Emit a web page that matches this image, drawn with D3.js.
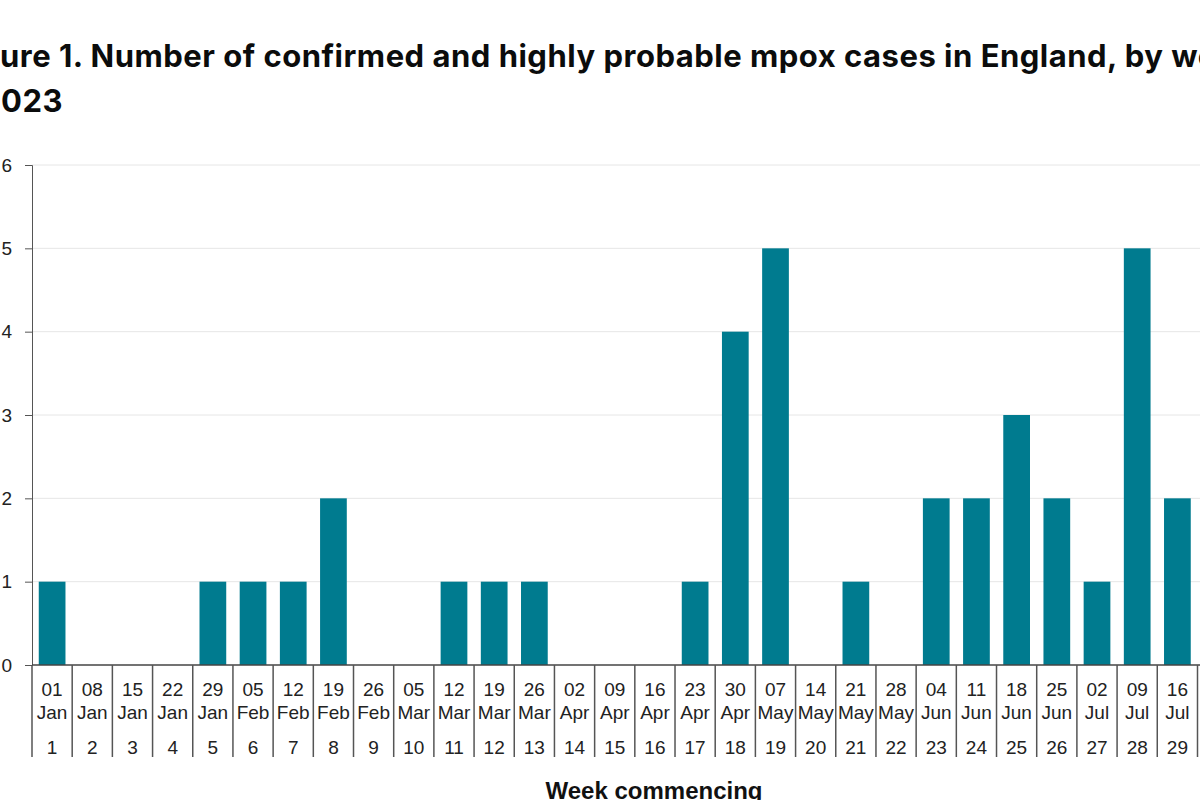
<!DOCTYPE html>
<html>
<head>
<meta charset="utf-8">
<script src="https://cdn.jsdelivr.net/npm/d3@7"></script>
<style>
body{margin:0;background:#fff;overflow:hidden;}
svg{display:block;}
</style>
</head>
<body>
<script>
// week commencing labels and case counts
var days = ["01","08","15","22","29","05","12","19","26","05","12","19","26","02","09","16","23","30","07","14","21","28","04","11","18","25","02","09","16"];
var months = ["Jan","Jan","Jan","Jan","Jan","Feb","Feb","Feb","Feb","Mar","Mar","Mar","Mar","Apr","Apr","Apr","Apr","Apr","May","May","May","May","Jun","Jun","Jun","Jun","Jul","Jul","Jul"];
var weeks = [1,2,3,4,5,6,7,8,9,10,11,12,13,14,15,16,17,18,19,20,21,22,23,24,25,26,27,28,29];
var cases = [1,0,0,0,1,1,1,2,0,0,1,1,1,0,0,0,1,4,5,0,1,0,2,2,3,2,1,5,2];
var yTicks = [0,1,2,3,4,5,6];

var W = 1200, H = 800;
var plotL = 32, plotR = 1197.5, plotT = 165, plotB = 665;

var svg = d3.select("body").append("svg").attr("width", W).attr("height", H);

var x = d3.scaleBand().domain(weeks).range([plotL, plotR]).paddingInner(0.335).paddingOuter(0.168);
var y = d3.scaleLinear().domain([0, 6]).range([plotB, plotT]);

// title, cropped on both sides like the source
var t1 = "Figure 1. Number of confirmed and highly probable mpox cases in England, by week,";
var t2 = "2023";
var title = svg.append("g").style("font-family", "Inter, 'Liberation Sans', sans-serif")
  .style("font-weight", "700").style("font-size", "31px").style("letter-spacing", "0.5px")
  .attr("fill", "#0b0c0c");
var probe = title.append("text").text("Fig");
var w1 = probe.node().getComputedTextLength();
probe.text("2");
var w2 = probe.node().getComputedTextLength();
probe.remove();
title.append("text").attr("x", -w1).attr("y", 67).text(t1);
title.append("text").attr("x", 1 - w2).attr("y", 112).text(t2);

// gridlines
svg.append("g").selectAll("line").data(yTicks.slice(1)).enter().append("line")
  .attr("x1", plotL).attr("x2", W)
  .attr("y1", function(d){return y(d);}).attr("y2", function(d){return y(d);})
  .attr("stroke", "#e6e6e6").attr("stroke-width", 1);

// bars
svg.append("g").selectAll("rect").data(cases).enter().append("rect")
  .attr("x", function(d, i){return x(weeks[i]);})
  .attr("width", x.bandwidth())
  .attr("y", function(d){return y(d);})
  .attr("height", function(d){return plotB - y(d);})
  .attr("fill", "#007b8f");

// y axis
var yAxis = svg.append("g").attr("transform", "translate(" + plotL + ",0)")
  .call(d3.axisLeft(y).tickValues(yTicks).tickSize(7).tickPadding(13).tickFormat(d3.format("d")));
yAxis.select(".domain").attr("stroke", "#555");
yAxis.selectAll(".tick line").attr("stroke", "#555");
yAxis.selectAll("text").style("font-family", "'Liberation Sans', Arial, sans-serif")
  .style("font-size", "19px").attr("fill", "#222");

// baseline
svg.append("line").attr("x1", plotL).attr("x2", W).attr("y1", plotB).attr("y2", plotB)
  .attr("stroke", "#444").attr("stroke-width", 1.5);

// category dividers
var step = x.step();
var edges = weeks.map(function(d){return x(d) - x.paddingOuter() * step;});
edges.push(plotR);
svg.append("g").selectAll("line").data(edges).enter().append("line")
  .attr("x1", function(d){return d;}).attr("x2", function(d){return d;})
  .attr("y1", plotB).attr("y2", 757)
  .attr("stroke", "#555").attr("stroke-width", 1.5);

// category labels
var lab = svg.append("g").style("font-family", "'Liberation Sans', Arial, sans-serif")
  .style("font-size", "19px").attr("fill", "#222").attr("text-anchor", "middle");
lab.selectAll("text.d").data(weeks).enter().append("text").attr("class", "d")
  .attr("x", function(d){return x(d) + x.bandwidth()/2;}).attr("y", 696)
  .text(function(d, i){return days[i];});
lab.selectAll("text.m").data(weeks).enter().append("text").attr("class", "m")
  .attr("x", function(d){return x(d) + x.bandwidth()/2;}).attr("y", 719)
  .text(function(d, i){return months[i];});
lab.selectAll("text.w").data(weeks).enter().append("text").attr("class", "w")
  .attr("x", function(d){return x(d) + x.bandwidth()/2;}).attr("y", 754)
  .text(function(d){return d;});

// axis title
svg.append("text").attr("x", 654).attr("y", 799).attr("text-anchor", "middle")
  .style("font-family", "'Liberation Sans', Arial, sans-serif").style("font-weight", "700")
  .style("font-size", "24px").attr("fill", "#111").text("Week commencing");
</script>
</body>
</html>
